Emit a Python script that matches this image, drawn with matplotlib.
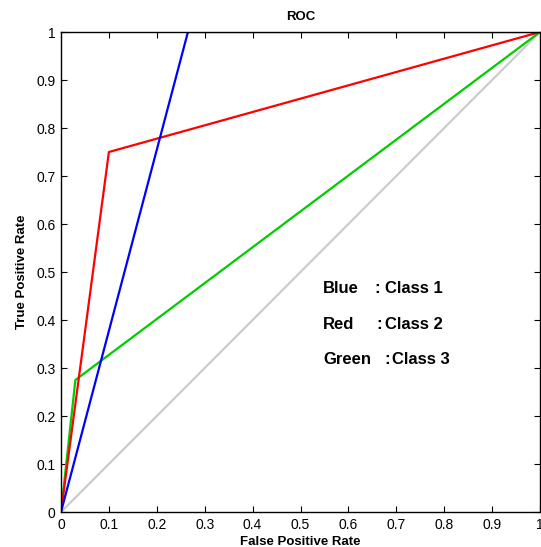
import numpy as np
import matplotlib.pyplot as plt

plt.rcParams['font.family'] = ['Liberation Sans', 'DejaVu Sans']

# ROC curves
blue_fpr = [0, 0.265, 1]
blue_tpr = [0, 1, 1]
red_fpr = [0, 0.1, 1]
red_tpr = [0, 0.75, 1]
green_fpr = [0, 0.03, 1]
green_tpr = [0, 0.275, 1]
chance = [0, 1]

ticks = np.round(np.arange(0, 1.01, 0.1), 1)
tick_labels = ['0', '0.1', '0.2', '0.3', '0.4', '0.5', '0.6', '0.7', '0.8', '0.9', '1']

legend_rows = [('Blue', ':', 'Class 1'), ('Red', ':', 'Class 2'), ('Green', ':', 'Class 3')]


def main():
    fig = plt.figure(figsize=(5.41, 5.47), dpi=100)
    ax = fig.add_axes([61 / 541, 1 - 512 / 547, 479 / 541, 480 / 547])

    ax.plot(chance, chance, color=(0.8, 0.8, 0.8), lw=1.6)
    ax.plot(green_fpr, green_tpr, color=(0, 0.8, 0), lw=1.6)
    ax.plot(red_fpr, red_tpr, color=(1, 0, 0), lw=1.6)
    ax.plot(blue_fpr, blue_tpr, color=(0, 0, 1), lw=1.6)

    ax.set_xlim(0, 1)
    ax.set_ylim(0, 1)
    ax.set_xticks(ticks)
    ax.set_yticks(ticks)
    ax.set_xticklabels(tick_labels)
    ax.set_yticklabels(tick_labels)
    ax.tick_params(direction='in', length=4, width=0.8, labelsize=10,
                   top=True, right=True, pad=4)
    for s in ax.spines.values():
        s.set_linewidth(1.0)

    ax.set_title('ROC', fontsize=9.5, fontweight='bold', pad=9)
    ax.set_xlabel('False Positive Rate', fontsize=9.5, fontweight='bold', labelpad=3)
    ax.set_ylabel('True Positive Rate', fontsize=9.5, fontweight='bold', labelpad=6)

    # text legend inside the axes
    ys = [0.465, 0.39, 0.317]
    colon_x = [0.654, 0.659, 0.676]
    class_x = [0.677, 0.677, 0.692]
    for (name, colon, cls), y, cx, kx in zip(legend_rows, ys, colon_x, class_x):
        ax.text(0.547, y, name, fontsize=12, fontweight='bold', va='center')
        ax.text(cx, y, colon, fontsize=12, fontweight='bold', va='center')
        ax.text(kx, y, cls, fontsize=12, fontweight='bold', va='center')

    fig.savefig('out.png', dpi=100)


if __name__ == '__main__':
    main()
